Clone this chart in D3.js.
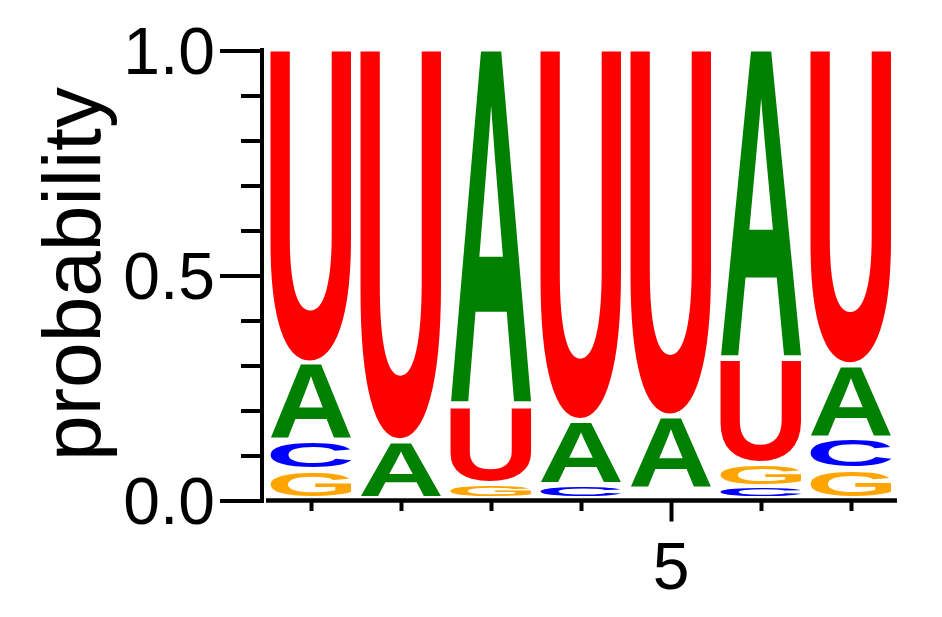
<!DOCTYPE html>
<html>
<head>
<meta charset="utf-8">
<script src="https://cdn.jsdelivr.net/npm/d3@7"></script>
<style>
  html, body { margin: 0; padding: 0; background: #fff; }
  svg { display: block; }
</style>
</head>
<body>
<svg id="chart" width="942" height="617"></svg>
<script>
// sequence positions and nucleotide letters
const positions = [1, 2, 3, 4, 5, 6, 7];
const letters = ["A", "C", "G", "U"];

// probability per position for each letter
const probA = [0.173, 0.128, 0.795, 0.142, 0.162, 0.692, 0.163];
const probC = [0.065, 0.000, 0.000, 0.031, 0.011, 0.027, 0.068];
const probG = [0.063, 0.000, 0.034, 0.000, 0.010, 0.050, 0.066];
const probU = [0.699, 0.872, 0.171, 0.827, 0.817, 0.231, 0.703];

// axis ticks
const yMajorTicks = [0, 0.5, 1];
const yTickLabels = ["0.0", "0.5", "1.0"];
const yMinorTicks = [0.1, 0.2, 0.3, 0.4, 0.6, 0.7, 0.8, 0.9];
const xMajorTicks = [5];
const xTickLabels = ["5"];
const xMinorTicks = [1, 2, 3, 4, 6, 7];

const colors = { A: "#008000", C: "#0000ff", G: "#ffa500", U: "#ff0000" };

const svg = d3.select("#chart");

const x = d3.scaleLinear().domain([0.5, 7.5]).range([266, 896]);
const y = d3.scaleLinear().domain([0, 1]).range([500.5, 50.5]);

const letterWidth = (x(2) - x(1)) * 0.9;
const letterGap = 4.5;
const letterFont = "'Liberation Sans', Arial, Helvetica, sans-serif";
const fontSize = 200;

// tight glyph boxes, measured on a canvas
const ctx = document.createElement("canvas").getContext("2d");
ctx.font = `bold ${fontSize}px ${letterFont}`;
const glyphBox = {};
letters.forEach(l => {
    const m = ctx.measureText(l);
    glyphBox[l] = {
        left: m.actualBoundingBoxLeft,
        w: m.actualBoundingBoxLeft + m.actualBoundingBoxRight,
        asc: m.actualBoundingBoxAscent,
        h: m.actualBoundingBoxAscent + m.actualBoundingBoxDescent
    };
});

const series = { A: probA, C: probC, G: probG, U: probU };

// build stacks: smallest at the bottom
const stacks = positions.map((pos, i) => {
    const items = letters.map(l => ({ letter: l, p: series[l][i] }))
        .sort((a, b) => a.p - b.p);
    let base = 0;
    return items.map(d => {
        const r = { pos: pos, letter: d.letter, y0: base, y1: base + d.p };
        base += d.p;
        return r;
    });
});

const marks = svg.append("g").attr("class", "letters");
stacks.flat().forEach(d => {
    const top = y(d.y1);
    const h = y(d.y0) - top - letterGap;
    if (h <= 1) return;
    const g = glyphBox[d.letter];
    const sx = letterWidth / g.w;
    const sy = h / g.h;
    const left = x(d.pos) - letterWidth / 2;
    marks.append("text")
        .attr("transform", `translate(${left + g.left * sx},${top + g.asc * sy}) scale(${sx},${sy})`)
        .attr("font-family", letterFont)
        .attr("font-weight", "bold")
        .attr("font-size", fontSize)
        .attr("fill", colors[d.letter])
        .text(d.letter);
});

// Y axis
const yAxisX = 264;
svg.append("g")
    .attr("transform", `translate(${yAxisX},0)`)
    .call(d3.axisLeft(y).tickValues(yMinorTicks).tickSize(23).tickFormat(""))
    .call(g => g.select(".domain").remove())
    .call(g => g.selectAll("line").attr("stroke", "#000").attr("stroke-width", 4));

svg.append("g")
    .attr("transform", `translate(${yAxisX},0)`)
    .call(d3.axisLeft(y).tickValues(yMajorTicks).tickSize(44).tickFormat(""))
    .call(g => g.select(".domain").remove())
    .call(g => g.selectAll("line").attr("stroke", "#000").attr("stroke-width", 4));

svg.append("line")
    .attr("x1", yAxisX - 2).attr("x2", yAxisX - 2)
    .attr("y1", y(1) - 2.5).attr("y2", y(0) + 2.2)
    .attr("stroke", "#000").attr("stroke-width", 4);

svg.selectAll(".ylab")
    .data(yMajorTicks)
    .enter().append("text")
    .attr("class", "ylab")
    .attr("x", 215)
    .attr("y", d => y(d) + 66 * 0.358)
    .attr("text-anchor", "end")
    .attr("font-family", "'Liberation Sans', Arial, sans-serif")
    .attr("font-size", 66)
    .text((d, i) => yTickLabels[i]);

// X axis
const xAxisY = y(0);
svg.append("line")
    .attr("x1", x(0.5)).attr("x2", x(7.5) + 1)
    .attr("y1", xAxisY).attr("y2", xAxisY)
    .attr("stroke", "#000").attr("stroke-width", 4.4);

svg.append("g")
    .attr("transform", `translate(0,${xAxisY})`)
    .call(d3.axisBottom(x).tickValues(xMinorTicks).tickSize(10.5).tickFormat(""))
    .call(g => g.select(".domain").remove())
    .call(g => g.selectAll("line").attr("stroke", "#000").attr("stroke-width", 4));

svg.append("g")
    .attr("transform", `translate(0,${xAxisY})`)
    .call(d3.axisBottom(x).tickValues(xMajorTicks).tickSize(21).tickFormat(""))
    .call(g => g.select(".domain").remove())
    .call(g => g.selectAll("line").attr("stroke", "#000").attr("stroke-width", 4));

svg.selectAll(".xlab")
    .data(xMajorTicks)
    .enter().append("text")
    .attr("class", "xlab")
    .attr("x", d => x(d))
    .attr("y", 589)
    .attr("text-anchor", "middle")
    .attr("font-family", "'Liberation Sans', Arial, sans-serif")
    .attr("font-size", 66)
    .text((d, i) => xTickLabels[i]);

// Y axis title
svg.append("text")
    .attr("transform", "translate(100,274) rotate(-90)")
    .attr("text-anchor", "middle")
    .attr("font-family", "'Liberation Sans', Arial, sans-serif")
    .attr("font-size", 82)
    .text("probability");
</script>
</body>
</html>
